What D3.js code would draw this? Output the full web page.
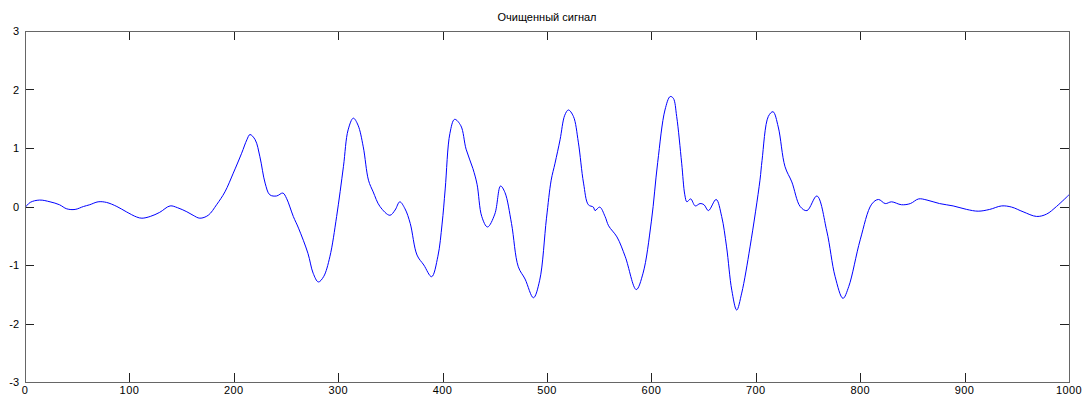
<!DOCTYPE html>
<html><head><meta charset="utf-8">
<script src="https://cdn.jsdelivr.net/npm/d3@7"></script>
<style>html,body{margin:0;padding:0;background:#fff;}svg{display:block;}</style>
</head><body>
<script>
const title = "Очищенный сигнал";
const xTicks = [0,100,200,300,400,500,600,700,800,900,1000];
const yTicks = [-3,-2,-1,0,1,2,3];
const sampleX = [0,5,14,24,33,40,48,56,62,70,78,88,97,107,112,120,129,139,146,155,161,167.5,175.5,183.5,191.5,199.5,207.5,212.5,215.5,220.5,225,230,234.5,241,247,250.5,257,262,271,276,281,286,292,298.5,305,309.5,314.5,319,324,329,333.5,340,349.5,354.5,359,364,369,375.5,382,389.5,395.5,399.5,402.5,407,411.5,417.5,422.5,429,433,437.5,443,450,455.5,459.7,466,472.5,479,487,493,499.5,504,507.7,512.5,517,520.5,525.3,530,535,539.6,544.4,546,550.5,555.6,559,567,575,585.5,592,600,606,613,618,621,624.2,629,632,634,637.6,642,646.6,650.4,654.6,662,667.3,672,677,681.7,686.5,694.5,704,706,712,716.5,721.5,728,734.5,742.5,749,758.5,768,776,783.5,789,800,811,817.5,824,830,839.5,848,856,864,876,889,902,913,924,935.5,945,956,969,978.5,988,1000];
const sampleY = [-0.02,0.07,0.11,0.08,0.03,-0.04,-0.05,0.0,0.03,0.08,0.07,0.0,-0.09,-0.18,-0.2,-0.17,-0.1,0.01,-0.02,-0.09,-0.15,-0.2,-0.15,0.03,0.25,0.57,0.91,1.14,1.23,1.14,0.85,0.4,0.2,0.18,0.23,0.14,-0.17,-0.37,-0.8,-1.14,-1.29,-1.2,-0.86,-0.17,0.68,1.31,1.51,1.39,1.02,0.45,0.25,0.0,-0.15,-0.06,0.08,-0.04,-0.29,-0.83,-1.0,-1.2,-0.85,-0.3,0.3,1.25,1.49,1.38,0.98,0.65,0.38,-0.17,-0.35,-0.13,0.35,0.24,-0.29,-1.03,-1.24,-1.56,-1.26,-0.2,0.45,0.74,1.14,1.56,1.65,1.54,1.1,0.4,0.03,-0.01,-0.07,-0.01,-0.17,-0.33,-0.52,-0.86,-1.42,-1.14,-0.25,0.75,1.65,1.88,1.85,1.54,0.74,0.2,0.08,0.13,0.01,0.05,0.03,-0.07,0.12,-0.17,-0.69,-1.43,-1.77,-1.48,-0.69,0.45,0.79,1.54,1.62,1.36,0.68,0.42,0.0,-0.07,0.18,-0.42,-1.2,-1.57,-1.37,-0.57,0.04,0.12,0.05,0.08,0.03,0.05,0.13,0.11,0.05,0.01,-0.05,-0.08,-0.05,0.01,-0.01,-0.09,-0.17,-0.13,0.0,0.2];

const W = 1088, H = 396;
const mLeft = 25, mRight = 1069, mTop = 31, mBottom = 382;
const svg = d3.select("body").append("svg").attr("width", W).attr("height", H);
const x = d3.scaleLinear().domain([0,1000]).range([mLeft,mRight]);
const y = d3.scaleLinear().domain([-3,3]).range([mBottom,mTop]);
const font = "'Liberation Sans', Arial, Helvetica, sans-serif";

svg.append("defs").append("clipPath").attr("id","clip")
  .append("rect").attr("x",mLeft).attr("y",mTop).attr("width",mRight-mLeft).attr("height",mBottom-mTop);

const data = sampleX.map((d,i)=>[d, sampleY[i]]);
svg.append("path").datum(data)
  .attr("clip-path","url(#clip)")
  .attr("fill","none").attr("stroke","#0000ff").attr("stroke-width",1)
  .attr("d", d3.line().x(d=>x(d[0])).y(d=>y(d[1])).curve(d3.curveCatmullRom.alpha(0.5)));

const tl = 9;
const g = svg.append("g").attr("stroke","#222").attr("stroke-width",1).attr("shape-rendering","crispEdges");
xTicks.forEach(t=>{
  const px = Math.round(x(t))+0.5;
  g.append("line").attr("x1",px).attr("x2",px).attr("y1",mBottom).attr("y2",mBottom-tl);
  g.append("line").attr("x1",px).attr("x2",px).attr("y1",mTop).attr("y2",mTop+tl);
});
yTicks.forEach(t=>{
  const py = Math.round(y(t))+0.5;
  g.append("line").attr("y1",py).attr("y2",py).attr("x1",mLeft).attr("x2",mLeft+tl);
  g.append("line").attr("y1",py).attr("y2",py).attr("x1",mRight).attr("x2",mRight-tl);
});
svg.append("rect").attr("x",mLeft+0.5).attr("y",mTop+0.5).attr("width",mRight-mLeft).attr("height",mBottom-mTop)
  .attr("fill","none").attr("stroke","#666").attr("stroke-width",1).attr("shape-rendering","crispEdges");

svg.append("g").selectAll("text").data(xTicks).join("text")
  .attr("x",d=>x(d)).attr("y",mBottom+12).attr("text-anchor","middle")
  .attr("font-family",font).attr("font-size",11).attr("letter-spacing",0.4).attr("fill","#000")
  .text(d=>d);
svg.append("g").selectAll("text").data(yTicks).join("text")
  .attr("x",mLeft-6).attr("y",d=>y(d)+4).attr("text-anchor","end")
  .attr("font-family",font).attr("font-size",11).attr("fill","#000")
  .text(d=>d);
svg.append("text").attr("x",(mLeft+mRight)/2).attr("y",21).attr("text-anchor","middle")
  .attr("font-family",font).attr("font-size",11).attr("fill","#000").text(title);
</script>
</body></html>
